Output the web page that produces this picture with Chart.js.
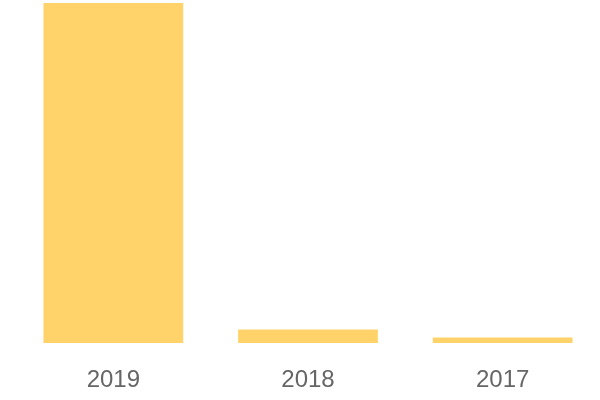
<!DOCTYPE html>
<html>
<head>
<meta charset="utf-8">
<script src="https://cdn.jsdelivr.net/npm/chart.js@4/dist/chart.umd.min.js"></script>
<style>
  html, body { margin: 0; padding: 0; background: #fff; }
  #wrap { width: 600px; height: 400px; }
</style>
</head>
<body>
<div id="wrap"><canvas id="barChart" width="600" height="400"></canvas></div>
<script>
// Chart data
const years = ['2019', '2018', '2017'];
const values = [100, 4.0, 1.6];
const yMax = 100;

const ctx = document.getElementById('barChart').getContext('2d');
new Chart(ctx, {
    type: 'bar',
    data: {
        labels: years,
        datasets: [{
            data: values,
            backgroundColor: '#FFD36A',
            borderWidth: 0,
            categoryPercentage: 1,
            barPercentage: 0.718,
        }],
    },
    options: {
        responsive: false,
        animation: false,
        layout: { padding: { left: 16, right: 0, top: 3, bottom: 0 } },
        plugins: {
            legend: { display: false },
            tooltip: { enabled: false },
        },
        scales: {
            x: {
                grid: { display: false, drawTicks: false },
                border: { display: false },
                ticks: {
                    color: '#666',
                    padding: 23,
                    font: { family: 'Liberation Sans', size: 24 },
                },
                afterFit: (scale) => { scale.height = 57; }, // keep baseline at y=343
            },
            y: {
                display: false,
                beginAtZero: true,
                max: yMax,
            },
        },
    },
});
</script>
</body>
</html>
